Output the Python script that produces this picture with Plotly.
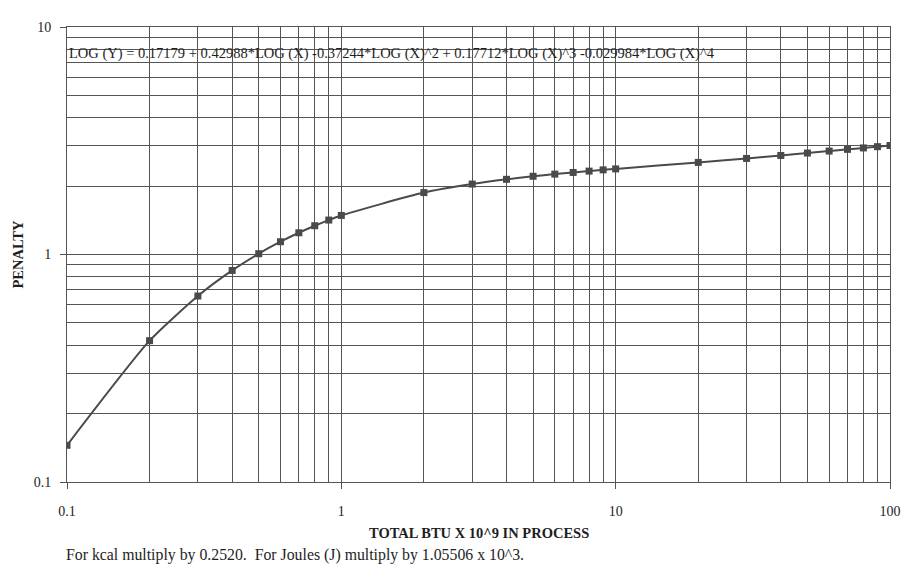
import plotly.graph_objects as go

# Data (points lie on the fitted curve shown in the equation)
btu = [0.1, 0.2, 0.3, 0.4, 0.5, 0.6, 0.7, 0.8, 0.9,
       1, 2, 3, 4, 5, 6, 7, 8, 9,
       10, 20, 30, 40, 50, 60, 70, 80, 90, 100]
penalty = [0.145, 0.418, 0.657, 0.851, 1.008, 1.138, 1.246, 1.338, 1.417,
           1.485, 1.871, 2.040, 2.140, 2.207, 2.256, 2.294, 2.326, 2.355,
           2.378, 2.540, 2.644, 2.725, 2.792, 2.849, 2.898, 2.941, 2.979, 3.013]

x_ticks = [0.1, 1, 10, 100]
x_tick_labels = ["0.1", "1", "10", "100"]
y_ticks = [0.1, 1, 10]
y_tick_labels = ["0.1", "1", "10"]

equation = ("LOG (Y) = 0.17179 + 0.42988*LOG (X) -0.37244*LOG (X)^2 + "
            "0.17712*LOG (X)^3 -0.029984*LOG (X)^4")
x_title = "TOTAL BTU X 10^9 IN PROCESS"
y_title = "PENALTY"
footnote = "For kcal multiply by 0.2520.  For Joules (J) multiply by 1.05506 x 10^3."

FONT = "Liberation Serif, Times New Roman, serif"
GRID = "#555555"
INK = "#4a4a4a"
TEXT = "#1e1e1e"

fig = go.Figure()
fig.add_trace(go.Scatter(
    x=btu, y=penalty, mode="lines+markers",
    line=dict(color=INK, width=2, shape="spline", smoothing=0.6),
    marker=dict(symbol="square", size=7, color=INK),
    showlegend=False, hoverinfo="x+y",
))

axis_common = dict(
    type="log",
    showgrid=True, gridcolor=GRID, gridwidth=1,
    showline=True, linecolor=GRID, linewidth=1, mirror=True,
    ticks="outside", ticklen=6, tickcolor=GRID, tickwidth=1,
    tickfont=dict(family=FONT, size=14, color=TEXT),
    zeroline=False,
    minor=dict(showgrid=True, gridcolor=GRID, gridwidth=1, ticks="", dtick="D1"),
)

fig.update_xaxes(**axis_common, range=[-1, 2],
                 tickmode="array", tickvals=x_ticks, ticktext=x_tick_labels,
                 ticklabelstandoff=10)
fig.update_yaxes(**axis_common, range=[-1, 1],
                 tickmode="array", tickvals=y_ticks, ticktext=y_tick_labels,
                 ticklabelstandoff=6)

fig.add_annotation(text=equation, xref="paper", yref="paper", x=0.0, y=1.0,
                   xanchor="left", yanchor="middle", yshift=-26, xshift=0,
                   showarrow=False, font=dict(family=FONT, size=14.5, color=TEXT))
fig.add_annotation(text="<b>" + x_title + "</b>", xref="paper", yref="paper",
                   x=0.5, y=0, yanchor="middle", yshift=-51, showarrow=False,
                   font=dict(family=FONT, size=14.5, color=TEXT))
fig.add_annotation(text="<b>" + y_title + "</b>", xref="paper", yref="paper",
                   x=0, y=0.5, xanchor="center", xshift=-50, textangle=-90,
                   showarrow=False, font=dict(family=FONT, size=14.5, color=TEXT))
fig.add_annotation(text=footnote, xref="paper", yref="paper",
                   x=0, y=0, xanchor="left", yanchor="middle", xshift=-3, yshift=-73,
                   showarrow=False, font=dict(family=FONT, size=15.8, color=TEXT))

# page body has an 8px default margin, so the figure is sized to fit inside the window
fig.update_layout(
    width=905, height=561,
    margin=dict(l=59, r=13, t=13, b=87),
    paper_bgcolor="white", plot_bgcolor="white",
)

fig.write_html("out.html")
